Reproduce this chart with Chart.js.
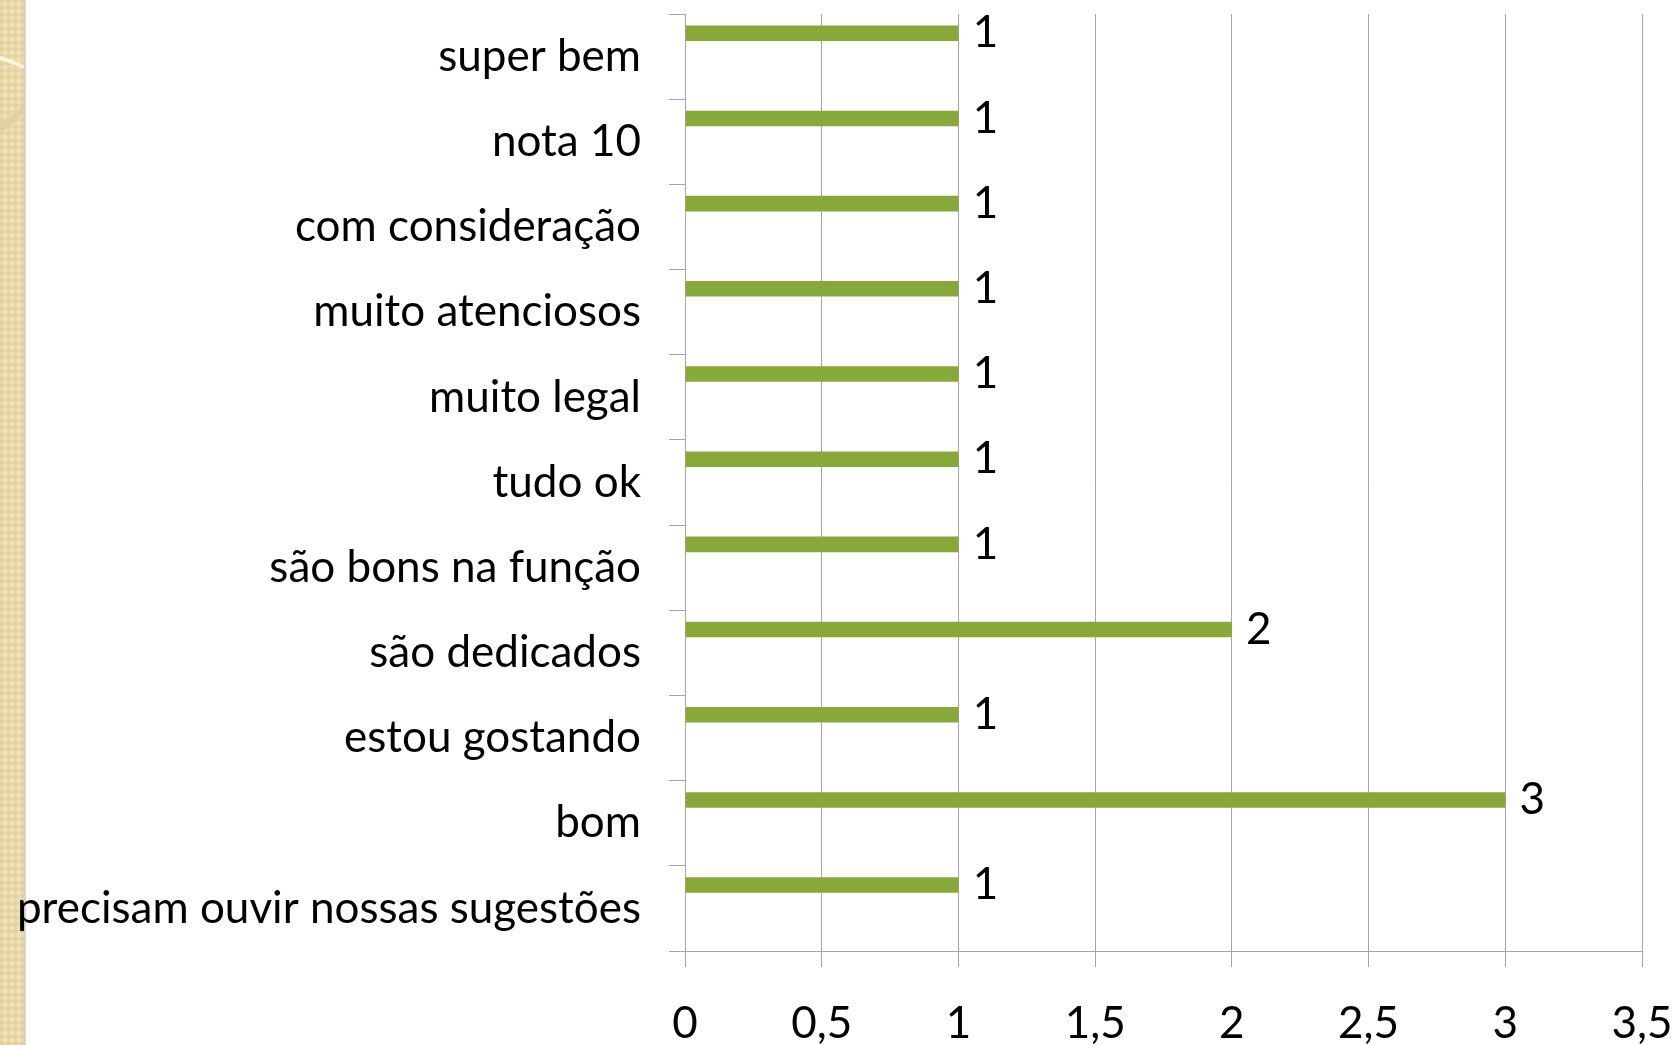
<!DOCTYPE html>
<html>
<head>
<meta charset="utf-8">
<script src="https://cdn.jsdelivr.net/npm/chart.js@4"></script>
<style>
  html, body { margin: 0; padding: 0; background: #fff; }
  #wrap { position: relative; width: 1676px; height: 1045px; overflow: hidden; }
  /* textured strip on the left edge of the slide */
  #strip {
    position: absolute; left: 0; top: 0; width: 24px; height: 1045px; overflow: hidden;
    background-color: #f1e2b6;
    background-image:
      repeating-linear-gradient(0deg, rgba(200,180,120,0.22) 0 3px, transparent 3px 7px),
      repeating-linear-gradient(90deg, rgba(200,180,120,0.22) 0 3px, transparent 3px 7px);
    border-right: 2px solid #d9d4c8;
  }
  #strip .swirl1 {
    position: absolute; left: -200px; top: 46px; width: 260px; height: 120px;
    border-top: 5px solid #fbf3dc; border-radius: 50%;
  }
  #strip .swirl2 {
    position: absolute; left: -230px; top: 20px; width: 260px; height: 120px;
    border-bottom: 18px solid #e2d09e; border-radius: 50%;
  }
  canvas { position: absolute; left: 0; top: 0; }
</style>
</head>
<body>
<div id="wrap">
  <div id="strip"><div class="swirl2"></div><div class="swirl1"></div></div>
  <canvas id="chart" width="1676" height="1045"></canvas>
</div>
<script>
// -----------------------------
// Data
// -----------------------------
const categories = [
    'super bem',
    'nota 10',
    'com consideração',
    'muito atenciosos',
    'muito legal',
    'tudo ok',
    'são bons na função',
    'são dedicados',
    'estou gostando',
    'bom',
    'precisam ouvir nossas sugestões'
];
const counts = [1, 1, 1, 1, 1, 1, 1, 2, 1, 3, 1];
const xTicks = [0, 0.5, 1, 1.5, 2, 2.5, 3, 3.5];

// the original sheet has three more (empty) series that keep the group spacing
const emptySeries = [
    categories.map(() => null),
    categories.map(() => null),
    categories.map(() => null)
];

const FONT = 'Lato, "Open Sans", sans-serif';
const FONT_SIZE = 44;
const GRID = '#a6a6a6';
const GREEN = '#86a93a';

// -----------------------------
// Value labels next to each bar
// -----------------------------
const valueLabels = {
    id: 'valueLabels',
    afterDatasetsDraw(chart) {
        const ctx = chart.ctx;
        const meta = chart.getDatasetMeta(0);
        ctx.save();
        ctx.font = FONT_SIZE + 'px ' + FONT;
        ctx.fillStyle = '#000';
        ctx.textAlign = 'center';
        ctx.textBaseline = 'middle';
        meta.data.forEach((bar, i) => {
            ctx.fillText(String(counts[i]), bar.x + 27, bar.y);
        });
        ctx.restore();
    }
};

// -----------------------------
// Chart
// -----------------------------
const ctx = document.getElementById('chart').getContext('2d');
new Chart(ctx, {
    type: 'bar',
    data: {
        labels: categories,
        datasets: [
            { data: counts, backgroundColor: GREEN, barPercentage: 1, categoryPercentage: 0.73 },
            ...emptySeries.map(d => ({ data: d, backgroundColor: GREEN, barPercentage: 1, categoryPercentage: 0.73 }))
        ]
    },
    options: {
        indexAxis: 'y',
        responsive: false,
        animation: false,
        layout: { padding: { top: 14, right: 34, left: 0, bottom: 0 } },
        plugins: { legend: { display: false }, tooltip: { enabled: false } },
        scales: {
            x: {
                min: 0,
                max: 3.5,
                afterBuildTicks(scale) { scale.ticks = xTicks.map(v => ({ value: v })); },
                ticks: {
                    color: '#000',
                    font: { family: FONT, size: FONT_SIZE },
                    padding: 30,
                    maxRotation: 0,
                    callback: v => String(v).replace('.', ',')
                },
                grid: { color: GRID, lineWidth: 1, tickLength: 16 },
                border: { color: GRID },
                afterFit(scale) {
                    scale.height = 94;
                    scale.paddingLeft = 0;
                    scale.paddingRight = 0;
                }
            },
            y: {
                ticks: {
                    color: '#000',
                    font: { family: FONT, size: FONT_SIZE },
                    padding: 28
                },
                grid: { offset: true, drawOnChartArea: false, color: GRID, tickLength: 16 },
                border: { color: GRID },
                afterFit(scale) {
                    scale.width = 685;
                    scale.paddingTop = 0;
                    scale.paddingBottom = 0;
                }
            }
        }
    },
    plugins: [valueLabels]
});
</script>
</body>
</html>
